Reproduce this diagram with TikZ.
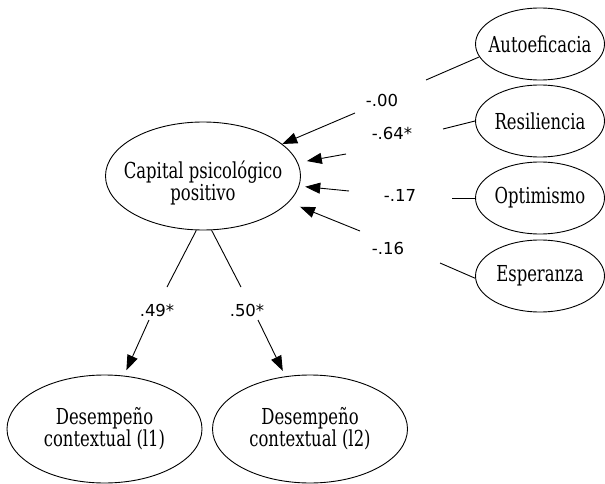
\documentclass[tikz,border=0pt]{standalone}
\usepackage{fontspec}
\setmainfont{DejaVu Serif Condensed}[FakeStretch=0.83]
\newfontfamily\coeffont{DejaVu Sans}
\usetikzlibrary{shapes.geometric,arrows.meta}
\begin{document}
\begin{tikzpicture}[x=1pt,y=-1pt,
  txt/.style={align=center,inner sep=0pt,font=\fontsize{22}{20.5}\selectfont},
  lat/.style={ellipse,draw,line width=0.9pt,minimum width=195pt,minimum height=108pt,inner sep=0pt},
  ind/.style={ellipse,draw,line width=0.9pt,minimum width=129pt,minimum height=72pt,inner sep=0pt},
  coef/.style={inner sep=0pt,font=\coeffont\fontsize{16.5}{19}\selectfont},
  link/.style={line width=0.9pt},
  arr/.style={line width=0.9pt,-{Triangle[length=15pt,width=11pt]}}
]
\useasboundingbox (0,0) rectangle (605,484);

\node[lat,label={[txt,yshift=-7pt]center:Capital psicológico\\positivo}] (cap) at (203,176) {};
\node[lat,label={[txt]center:Desempeño\\contextual (l1)}] (d1) at (104.5,429) {};
\node[lat,label={[txt]center:Desempeño\\contextual (l2)}] (d2) at (310,429) {};

\node[ind,label={[txt]center:Autoeficacia}] (auto) at (540,44) {};
\node[ind,label={[txt]center:Resiliencia}] (res) at (540,121) {};
\node[ind,label={[txt]center:Optimismo}] (opt) at (540,198) {};
\node[ind,label={[txt]center:Esperanza}] (esp) at (540,276) {};

\node[coef] (c1) at (382,100) {-.00};
\node[coef] (c2) at (392,133) {-.64*};
\node[coef] (c3) at (400,195) {-.17};
\node[coef] (c4) at (388,248) {-.16};
\node[coef] (c5) at (157,310) {.49*};
\node[coef] (c6) at (247,310) {.50*};

\coordinate (a1) at (426,80);  \coordinate (b1) at (355,113);
\coordinate (a2) at (443,129); \coordinate (b2) at (346,154);
\coordinate (a3) at (452,198); \coordinate (b3) at (349,191);
\coordinate (a4) at (440,263); \coordinate (b4) at (360,231);
\coordinate (a5) at (167,287); \coordinate (b5) at (149,320);
\coordinate (a6) at (241,287); \coordinate (b6) at (258,320);

\draw[link] (auto.192) -- (a1);
\draw[arr] (b1) -- (cap.22);
\draw[link] (res.180) -- (a2);
\draw[arr,shorten >=9pt] (b2) -- (cap.8);
\draw[link] (opt.180) -- (a3);
\draw[arr,shorten >=6pt] (b3) -- (cap.-6);
\draw[link] (esp.182) -- (a4);
\draw[arr,shorten >=12pt] (b4) -- (cap.-17);
\draw[link] (cap.263) -- (a5);
\draw[arr,shorten >=6pt] (b5) -- (d1.70);
\draw[link] (cap.279) -- (a6);
\draw[arr,shorten >=6pt] (b6) -- (d2.115);
\end{tikzpicture}
\end{document}
